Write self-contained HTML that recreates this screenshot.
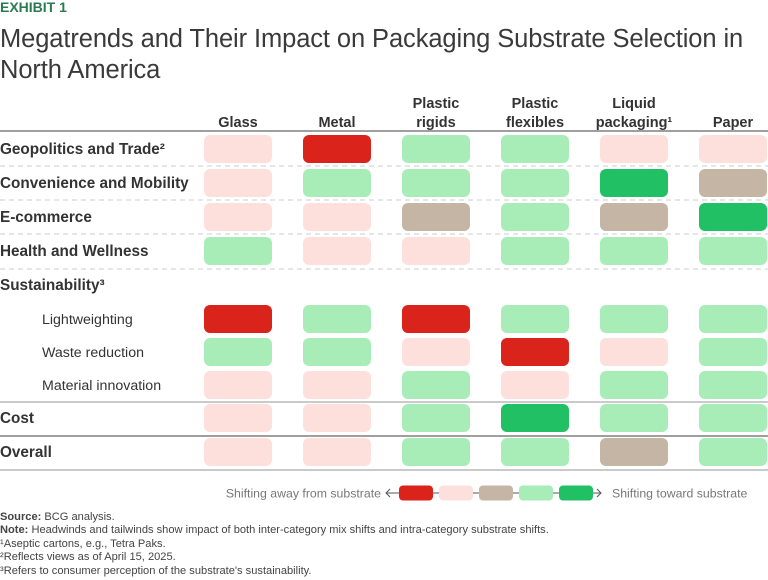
<!DOCTYPE html>
<html><head><meta charset="utf-8"><style>
body{margin:0;width:768px;height:580px;background:#fff;font-family:"Liberation Sans",sans-serif;color:#333;position:relative;overflow:hidden}
.a{position:absolute;white-space:nowrap}
</style></head><body>
<div class="a" style="left:0;top:-1px;font-size:14px;font-weight:bold;color:#2a7a52">EXHIBIT 1</div>
<div class="a" style="left:0;top:24px;font-size:25.5px;line-height:31px;color:#3a3a3a;white-space:normal;width:768px;letter-spacing:-0.1px">Megatrends and Their Impact on Packaging Substrate Selection in North America</div>
<svg id="chart" width="768" height="580" style="position:absolute;left:0;top:0"></svg>
<div class="a" style="left:0;top:511px;font-size:11.1px;line-height:13.4px;color:#444">
<div><b>Source:</b> BCG analysis.</div>
<div><b>Note:</b> Headwinds and tailwinds show impact of both inter-category mix shifts and intra-category substrate shifts.</div>
<div>¹Aseptic cartons, e.g., Tetra Paks.</div>
<div>²Reflects views as of April 15, 2025.</div>
<div>³Refers to consumer perception of the substrate's sustainability.</div>
</div>
<script>
const columns=["Glass","Metal","Plastic|rigids","Plastic|flexibles","Liquid|packaging¹","Paper"];
const rows=["Geopolitics and Trade²","Convenience and Mobility","E-commerce","Health and Wellness","Sustainability³","Lightweighting","Waste reduction","Material innovation","Cost","Overall"];
const subRows=[false,false,false,false,false,true,true,true,false,false];
// 0 strong away,1 away,2 neutral,3 toward,4 strong toward, null none
const values=[
[1,0,3,3,1,1],
[1,3,3,3,4,2],
[1,1,2,3,2,4],
[3,1,1,3,3,3],
null,
[0,3,0,3,3,3],
[3,3,1,0,1,3],
[1,1,3,1,3,3],
[1,1,3,4,3,3],
[1,1,3,3,2,3]];
const palette=["#d9231b","#fde0dc","#c5b5a5","#a8edb8","#22c064"];
const rowCenters=[149,183,217,251,285,319,352,385,418,452];
const NS="http://www.w3.org/2000/svg";
const svg=document.getElementById('chart');
function mk(t,a){const e=document.createElementNS(NS,t);for(const k in a)e.setAttribute(k,a[k]);svg.appendChild(e);return e;}
const colX=i=>204+i*99, cw=68, ch=28;
columns.forEach((c,i)=>{const parts=c.split('|');parts.forEach((p,j)=>{const t=mk('text',{x:colX(i)+cw/2,y:127-(parts.length-1-j)*19,'text-anchor':'middle','font-size':14.5,'font-weight':'bold',fill:'#333'});t.textContent=p;

});});
let l=mk('line',{x1:0,x2:768,y1:131,y2:131,stroke:'#666','stroke-width':1.3});

[166,200,234,269].forEach(y=>{const d=mk('line',{x1:0,x2:768,y1:y,y2:y,stroke:'#ccc','stroke-dasharray':'5,4'});

});
[[402,'#aaa'],[436,'#666'],[470,'#aaa']].forEach(([y,c])=>{const d=mk('line',{x1:0,x2:768,y1:y,y2:y,stroke:c,'stroke-width':1.3});

});
rows.forEach((r,i)=>{const y=rowCenters[i];
const t=mk('text',{x:subRows[i]?42:0,y:y+5,'font-size':subRows[i]?14.2:15.3,'font-weight':subRows[i]?'normal':'bold',fill:'#333'});t.textContent=r;


if(values[i])values[i].forEach((v,j)=>{const c=mk('rect',{x:colX(j),y:y-ch/2,width:cw,height:ch,rx:6,fill:palette[v]});

});});
const ly=493;
const ll=mk('line',{x1:386,x2:601,y1:ly,y2:ly,stroke:'#555'});

mk('path',{d:'M390 489 L386 493 L390 497',fill:'none',stroke:'#555'});
mk('path',{d:'M597 489 L601 493 L597 497',fill:'none',stroke:'#555'});
palette.forEach((c,i)=>{const r=mk('rect',{x:399+i*40,y:ly-7.5,width:34,height:15,rx:4,fill:c});

});
let t1=mk('text',{x:381,y:ly+4.5,'text-anchor':'end','font-size':12.3,fill:'#777'});t1.textContent='Shifting away from substrate';

let t2=mk('text',{x:612,y:ly+4.5,'font-size':12.3,fill:'#777'});t2.textContent='Shifting toward substrate';

</script>
</body></html>
